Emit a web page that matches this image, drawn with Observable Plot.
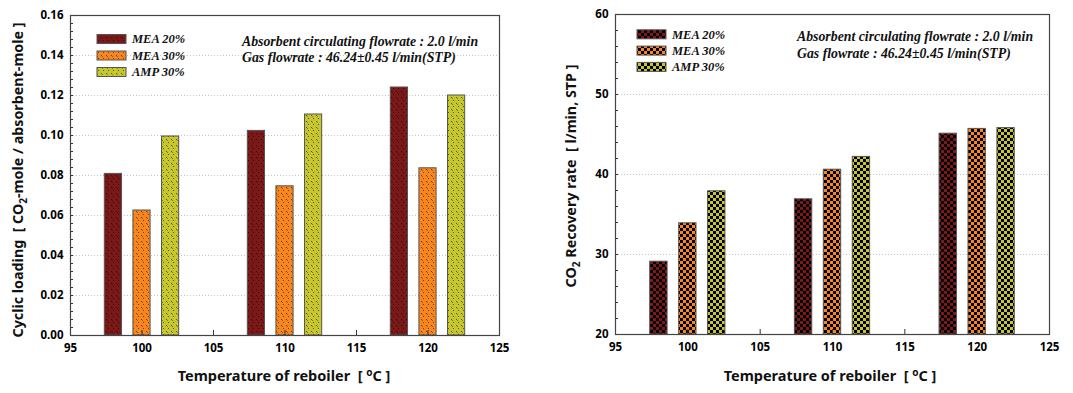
<!DOCTYPE html>
<html>
<head>
<meta charset="utf-8">
<script src="https://cdn.jsdelivr.net/npm/d3@7"></script>
<script src="https://cdn.jsdelivr.net/npm/@observablehq/plot@0.6"></script>
<style>
  html, body { margin: 0; padding: 0; background: #fff; }
  #wrap { display: flex; width: 1073px; height: 393px; }
  svg { font-family: "Noto Sans", sans-serif; }
</style>
</head>
<body>
<div id="wrap"></div>
<script>
// ---- data ----
const temps = [100, 110, 120];
const seriesNames = ["MEA 20%", "MEA 30%", "AMP 30%"];
const seriesColors = ["#7b1919", "#f7861f", "#c6c62e"];
const loadingMEA20 = [0.0808, 0.1023, 0.1240];
const loadingMEA30 = [0.0625, 0.0746, 0.0836];
const loadingAMP30 = [0.0995, 0.1105, 0.1200];
const recoveryMEA20 = [29.1, 36.9, 45.1];
const recoveryMEA30 = [33.9, 40.6, 45.7];
const recoveryAMP30 = [37.9, 42.2, 45.8];
const xTicks = [95, 100, 105, 110, 115, 120, 125];
const loadingTicks = [0, 0.02, 0.04, 0.06, 0.08, 0.10, 0.12, 0.14, 0.16];
const recoveryTicks = [20, 30, 40, 50, 60];
const annotLines = ["Absorbent circulating flowrate : 2.0 l/min", "Gas flowrate : 46.24\u00b10.45 l/min(STP)"];

const loadingSeries = [loadingMEA20, loadingMEA30, loadingAMP30];
const recoverySeries = [recoveryMEA20, recoveryMEA30, recoveryAMP30];

function rows(seriesVals) {
  const out = [];
  seriesVals.forEach((vals, s) => vals.forEach((v, i) => out.push({s, t: temps[i], v})));
  return out;
}

const tickFont = {fontSize: 11.5, fontWeight: "bold", fill: "#000"};

function panel(opts) {
  const {id, width, mL, mR, mT, mB, yDomain, yTicks, yMinor, seriesVals, fmt, patternKind} = opts;
  const data = rows(seriesVals);
  const half = 0.6, off = 2;
  const marks = [
    Plot.ruleY(yTicks.slice(1, -1), {stroke: "#c4c4c4", strokeDasharray: "1,2"}),
    ...seriesNames.map((n, s) => Plot.rectY(data.filter(d => d.s === s), {
      x1: d => d.t + (s - 1) * off - half,
      x2: d => d.t + (s - 1) * off + half,
      y1: yDomain[0], y2: "v",
      fill: `url(#${id}-p${s})`, stroke: "#555", strokeWidth: 1
    })),
    Plot.axisY({ticks: yMinor, tickSize: -3, text: null, stroke: "#333", label: null}),
    Plot.axisY({ticks: yTicks, tickSize: -3, tickPadding: 10, tickFormat: fmt, ...tickFont, stroke: "#333", label: null}),
    Plot.axisX({ticks: xTicks, tickSize: -5, tickPadding: 13, tickFormat: d => d, ...tickFont, stroke: "#333", label: null}),
    Plot.frame({stroke: "#444", strokeWidth: 1.2})
  ];
  const svg = Plot.plot({
    width, height: 393,
    marginLeft: mL, marginRight: mR, marginTop: mT, marginBottom: mB,
    x: {domain: [95, 125], label: null},
    y: {domain: yDomain, label: null},
    marks
  });
  const sel = d3.select(svg);
  const defs = sel.insert("defs", ":first-child");
  seriesColors.forEach((c, s) => {
    if (patternKind === "dots") {
      const p = defs.append("pattern").attr("id", `${id}-p${s}`).attr("patternUnits", "userSpaceOnUse")
        .attr("width", 5).attr("height", 6);
      p.append("rect").attr("width", 5).attr("height", 6).attr("fill", c);
      p.append("rect").attr("x", 1).attr("y", 1).attr("width", 1).attr("height", 1).attr("fill", "rgba(0,0,0,0.55)");
      p.append("rect").attr("x", 2).attr("y", 2).attr("width", 1).attr("height", 1).attr("fill", "rgba(0,0,0,0.35)");
      p.append("rect").attr("x", 3).attr("y", 4).attr("width", 1).attr("height", 1).attr("fill", "rgba(0,0,0,0.55)");
    } else {
      const p = defs.append("pattern").attr("id", `${id}-p${s}`).attr("patternUnits", "userSpaceOnUse")
        .attr("width", 6).attr("height", 6);
      p.append("rect").attr("width", 6).attr("height", 6).attr("fill", c);
      p.append("rect").attr("x", 0).attr("y", 0).attr("width", 3).attr("height", 3).attr("fill", "#000");
      p.append("rect").attr("x", 3).attr("y", 3).attr("width", 3).attr("height", 3).attr("fill", "#000");
    }
  });
  return {svg, sel};
}

const serif = "'Liberation Serif', 'Times New Roman', serif";

function addLegend(sel, id, x, y0, dy) {
  const g = sel.append("g");
  seriesNames.forEach((n, s) => {
    const cy = y0 + s * dy;
    g.append("rect").attr("x", x).attr("y", cy - 4.5).attr("width", 29).attr("height", 9)
      .attr("fill", `url(#${id}-p${s})`).attr("stroke", "#555");
    g.append("text").attr("x", x + 35).attr("y", cy).attr("dy", "0.35em").attr("text-anchor", "start")
      .attr("font-family", serif)
      .attr("font-style", "italic").attr("font-weight", "bold").attr("font-size", 12.5).attr("fill", "#111")
      .text(n);
  });
}

function addAnnot(sel, x, y0, dy) {
  annotLines.forEach((t, i) => {
    sel.append("text").attr("x", x).attr("y", y0 + i * dy).attr("dy", "0.35em").attr("text-anchor", "start")
      .attr("font-family", serif)
      .attr("font-style", "italic").attr("font-weight", "bold").attr("font-size", 13.8).attr("fill", "#111")
      .text(t);
  });
}

function addXTitle(sel, cx) {
  const t = sel.append("text").attr("x", cx).attr("y", 381).attr("text-anchor", "middle")
    .attr("font-size", 14.5).attr("font-weight", "bold").attr("fill", "#111");
  t.append("tspan").text("Temperature of reboiler  [ ");
  t.append("tspan").attr("dy", -5).attr("font-size", 10).text("o");
  t.append("tspan").attr("dy", 5).text("C ]");
}

const wrap = document.getElementById("wrap");

// Left panel
const L = panel({id: "L", width: 536, mL: 70, mR: 37, mT: 15, mB: 58,
  yDomain: [0, 0.16], yTicks: loadingTicks, yMinor: d3.range(0, 0.1601, 0.004),
  seriesVals: loadingSeries, fmt: d3.format(".2f"), patternKind: "dots"});
addLegend(L.sel, "L", 97, 39, 16.5);
addAnnot(L.sel, 242, 41, 16);
addXTitle(L.sel, 284);
{
  const t = L.sel.append("text").attr("transform", "translate(23,180) rotate(-90)").attr("text-anchor", "middle")
    .attr("font-size", 14.3).attr("font-weight", "bold").attr("fill", "#111");
  t.append("tspan").text("Cyclic loading  [ CO");
  t.append("tspan").attr("dy", 4).attr("font-size", 10).text("2");
  t.append("tspan").attr("dy", -4).text("-mole / absorbent-mole ]");
}
wrap.appendChild(L.svg);

// Right panel
const R = panel({id: "R", width: 537, mL: 79, mR: 24, mT: 14, mB: 59,
  yDomain: [20, 60], yTicks: recoveryTicks, yMinor: d3.range(20, 60.1, 2),
  seriesVals: recoverySeries, fmt: d => d, patternKind: "checker"});
addLegend(R.sel, "R", 101, 34.3, 16.3);
addAnnot(R.sel, 261, 36.5, 16.5);
addXTitle(R.sel, 294);
{
  const t = R.sel.append("text").attr("transform", "translate(40,176) rotate(-90)").attr("text-anchor", "middle")
    .attr("font-size", 14.3).attr("font-weight", "bold").attr("fill", "#111");
  t.append("tspan").text("CO");
  t.append("tspan").attr("dy", 4).attr("font-size", 10).text("2");
  t.append("tspan").attr("dy", -4).text(" Recovery rate  [ l/min, STP ]");
}
wrap.appendChild(R.svg);
</script>
</body>
</html>
